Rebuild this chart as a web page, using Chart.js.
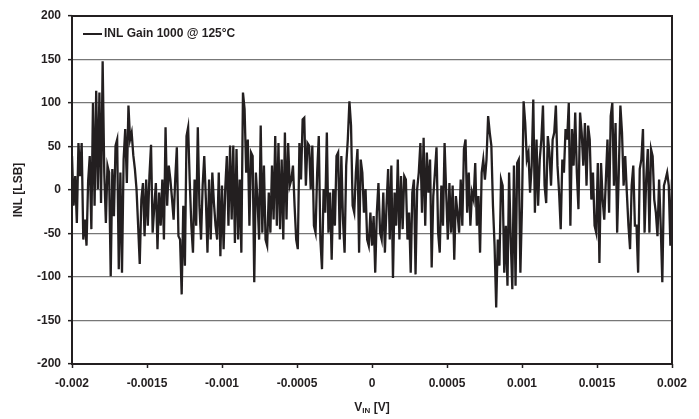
<!DOCTYPE html>
<html><head><meta charset="utf-8">
<script src="https://cdn.jsdelivr.net/npm/chart.js@4/dist/chart.umd.min.js"></script>
<style>html,body{margin:0;padding:0;background:#fff;}#wrap{width:699px;height:419px;}</style>
</head><body><div id="wrap"><canvas id="c" width="699" height="419"></canvas></div>
<script>
const seriesLabel = 'INL Gain 1000 @ 125°C';
const xTitleMain = 'V';
const xTitleSub = 'IN';
const xTitleRest = ' [V]';
const yTitle = 'INL [LSB]';
const vinRange = [-0.002, 0.002];
const xTickValues = [-0.002, -0.0015, -0.001, -0.0005, 0, 0.0005, 0.001, 0.0015, 0.002];
const xTickLabels = ['-0.002', '-0.0015', '-0.001', '-0.0005', '0', '0.0005', '0.001', '0.0015', '0.002'];
const yTickValues = [-200, -150, -100, -50, 0, 50, 100, 150, 200];
const yTickLabels = ['-200', '-150', '-100', '-50', '0', '50', '100', '150', '200'];

const inlPart1 = [39, -18, 16, -38, 54, 16, 54, -57, -34, -64, 10, 39, -45, 100, -18, 114, 1, 112, -15, 148, 20, -38, 28, 20, -99, 24, -30, 51, 58, -91, 20, -95, 35, 70, 8, 97, 58, 66, 40, 24, 1, -41, -85, -11, 8, -53, 12, -41, 16, 52, -49, -20, 8, -68, -3, -41, 12, -57, 72, -18, 28, 12, -10, -34, 12, 49, -53, -57, -120, -18, -87, 62, 72, 10, -41, -72, 12, -41, 72, -18, -57, 5, 39, -11, -72, 12, -57, 20, -15, -41];
const inlPart2 = [-57, 20, -76, 5, -68, 1, 39, -41, 51, -34, 51, -61, 47, -57, 12, -72, 112, 93, 20, 58, -41, 43, 39, -106, 20, -11, -57, 74, -49, 28, -57, -64, -3, -49, 28, -34, 62, -41, 54, -45, 35, -57, 66, -34, 54, 5, 12, 28, -18, -57, -68, 54, 12, 81, 83, 5, 54, 51, 1, 51, -41, -49, 20, 62, -57, -91, 1, -26, 66, -49, -3, -80, 1, -41, 39, 43, -57, 39, -34, -72, 28, 58, 102, 74, -18, -26, 20, 47, -72, 35, 20, -26, 1, -57, -64];
const inlPart3 = [-26, -64, -30, -95, -26, 8, -49, -57, -3, -72, -18, 24, -57, 28, -101, -3, -41, 35, -57, 16, -45, 16, 12, -57, -26, -95, -3, 12, -97, 1, 20, 54, -26, 60, -41, 43, -3, 35, -89, -7, 20, 49, -49, -72, 5, -41, 54, -3, -57, 8, -49, 5, -80, -7, -26, -49, 12, -41, 47, 58, -26, 20, -41, -3, -11, 31, -41, -7, -72, 20, 35, 12, 35, 85, 66, 51, -18, -64, -135, -57, -87, 12, 5, -95, -41, -110, 20, -57, -114, 28, -110, 31];
const inlPart4 = [35, -95, -18, 102, 77, 35, 43, -3, 28, 104, -26, 58, -18, 35, 58, 97, 5, -15, 62, 43, 5, 58, 66, 97, 28, -3, -45, 35, 20, 70, 58, 100, -41, 70, 28, 89, 20, -22, 89, 66, 28, 77, 5, 74, 58, -11, 20, -41, -49, 31, -84, 31, -11, -34, 12, 58, -26, 85, 100, 5, 77, -49, 20, 97, 66, 5, 39, -3, -41, -68, 5, 28, -41, -41, -95, 24, 35, 70, -49, 12, 47, -49, 47, 39, -11, -26, -53, 12, -41, -106, 5, 12, 20, 5, -64, 12];

const inl = [...inlPart1, ...inlPart2, ...inlPart3, ...inlPart4];
const vin = inl.map((_, i) => vinRange[0] + i * (vinRange[1] - vinRange[0]) / (inl.length - 1));

const FONT = 'Liberation Sans, Arial, Helvetica, sans-serif';
const INK = '#231f20';

const decor = {
  id: 'decor',
  afterDraw(chart) {
    const ctx = chart.ctx;
    const a = chart.chartArea;
    ctx.save();
    ctx.strokeStyle = INK;
    ctx.lineWidth = 2;
    ctx.strokeRect(a.left, a.top, a.right - a.left, a.bottom - a.top);
    ctx.beginPath();
    ctx.moveTo(a.left + 11, a.top + 18);
    ctx.lineTo(a.left + 30, a.top + 18);
    ctx.lineWidth = 2;
    ctx.stroke();
    ctx.fillStyle = INK;
    ctx.font = 'bold 12px ' + FONT;
    ctx.textBaseline = 'middle';
    ctx.textAlign = 'left';
    ctx.fillText(chart.data.datasets[0].label, a.left + 32, a.top + 18);
    ctx.textBaseline = 'alphabetic';
    ctx.font = 'bold 12px ' + FONT;
    const w1 = ctx.measureText(xTitleMain).width;
    const w3 = ctx.measureText(xTitleRest).width;
    ctx.font = 'bold 8px ' + FONT;
    const w2 = ctx.measureText(xTitleSub).width;
    const total = w1 + w2 + w3;
    let x = (a.left + a.right) / 2 - total / 2;
    const base = 411;
    ctx.font = 'bold 12px ' + FONT;
    ctx.fillText(xTitleMain, x, base);
    x += w1;
    ctx.font = 'bold 8px ' + FONT;
    ctx.fillText(xTitleSub, x, base + 2);
    x += w2;
    ctx.font = 'bold 12px ' + FONT;
    ctx.fillText(xTitleRest, x, base);
    ctx.translate(19, (a.top + a.bottom) / 2);
    ctx.rotate(-Math.PI / 2);
    ctx.textAlign = 'center';
    ctx.textBaseline = 'middle';
    ctx.fillText(yTitle, 0, 0);
    ctx.restore();
  }
};

new Chart(document.getElementById('c'), {
  type: 'line',
  data: {
    datasets: [{
      label: seriesLabel,
      data: vin.map((v, i) => ({ x: v, y: inl[i] })),
      borderColor: INK,
      borderWidth: 2.3,
      pointRadius: 0,
      tension: 0,
      fill: false
    }]
  },
  options: {
    responsive: false,
    animation: false,
    devicePixelRatio: 1,
    layout: { padding: { left: 0, right: 27, top: 16, bottom: 0 } },
    plugins: { legend: { display: false }, tooltip: { enabled: false } },
    scales: {
      x: {
        type: 'linear',
        min: vinRange[0], max: vinRange[1],
        afterBuildTicks: s => { s.ticks = xTickValues.map(v => ({ value: v })); },
        afterFit: s => { s.height = 55; },
        ticks: {
          autoSkip: false, maxRotation: 0, minRotation: 0, padding: 8,
          color: INK, font: { family: FONT, size: 12, weight: 'bold' },
          callback: (v, i) => xTickLabels[i]
        },
        grid: { drawOnChartArea: false, drawTicks: true, tickLength: 4, tickColor: INK, tickWidth: 1.5, color: INK },
        border: { display: false }
      },
      y: {
        min: -200, max: 200,
        afterBuildTicks: s => { s.ticks = yTickValues.map(v => ({ value: v })); },
        afterFit: s => { s.width = 72; },
        ticks: {
          autoSkip: false, padding: 7,
          color: INK, font: { family: FONT, size: 12, weight: 'bold' },
          callback: (v, i) => yTickLabels[i]
        },
        grid: { color: '#777777', lineWidth: 1.3, tickLength: 4, tickColor: INK, tickWidth: 1.5 },
        border: { display: false }
      }
    }
  },
  plugins: [decor]
});
</script>
</body></html>
